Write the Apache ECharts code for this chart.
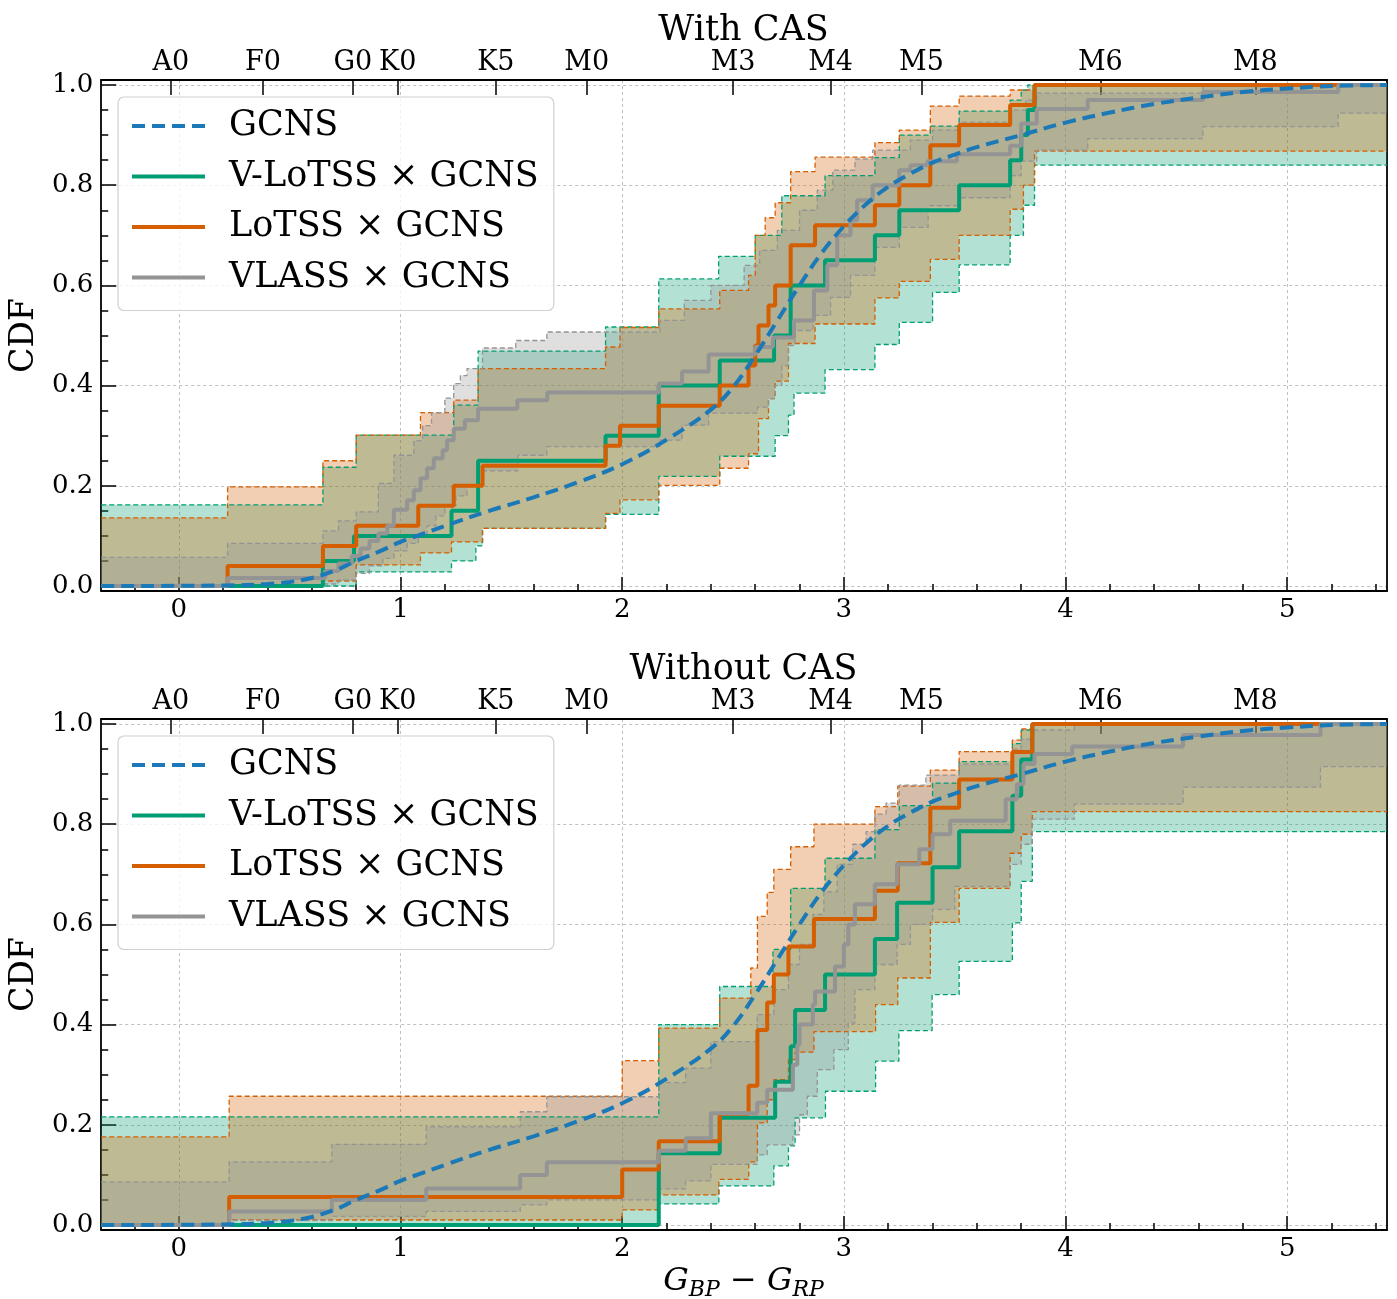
<!DOCTYPE html>
<html><head><meta charset="utf-8">
<script src="https://cdn.jsdelivr.net/npm/echarts@6/dist/echarts.min.js"></script>
<style>html,body{margin:0;padding:0;background:#fff}#c{width:1397px;height:1299px}</style>
</head><body><div id="c"></div>
<script>
// ---------- axis ranges & ticks ----------
const X_MIN = -0.35, X_MAX = 5.45, Y_MIN = -0.01, Y_MAX = 1.01;
const xMajorTicks = [0, 1, 2, 3, 4, 5];
const xMinorTicks = [-0.2, 0.2, 0.4, 0.6, 0.8, 1.2, 1.4, 1.6, 1.8, 2.2, 2.4, 2.6, 2.8, 3.2, 3.4, 3.6, 3.8, 4.2, 4.4, 4.6, 4.8, 5.2, 5.4];
const yMajorTicks = [0, 0.2, 0.4, 0.6, 0.8, 1.0];
const yMinorTicks = [0.05, 0.1, 0.15, 0.25, 0.3, 0.35, 0.45, 0.5, 0.55, 0.65, 0.7, 0.75, 0.85, 0.9, 0.95];
const specNames = ['A0', 'F0', 'G0', 'K0', 'K5', 'M0', 'M3', 'M4', 'M5', 'M6', 'M8'];
const specPos = [-0.036, 0.379, 0.785, 0.987, 1.43, 1.84, 2.50, 2.94, 3.35, 4.157, 4.856];
const panelTitles = ['With CAS', 'Without CAS'];
const legendNames = ['GCNS', 'V-LoTSS × GCNS', 'LoTSS × GCNS', 'VLASS × GCNS'];

// ---------- GCNS reference CDF ----------
const gcnsCdf = [[-0.35,0],[0.2,0.001],[0.4,0.004],[0.5,0.008],[0.6,0.016],[0.7,0.03],[0.8,0.05],[0.9,0.068],[1.0,0.088],[1.1,0.104],[1.2,0.12],[1.4,0.15],[1.6,0.177],[1.8,0.207],[2.0,0.243],[2.2,0.292],[2.4,0.352],[2.5,0.397],[2.6,0.46],[2.7,0.53],[2.8,0.60],[2.9,0.665],[3.0,0.718],[3.1,0.762],[3.2,0.797],[3.3,0.823],[3.4,0.845],[3.5,0.861],[3.6,0.876],[3.8,0.90],[4.0,0.925],[4.2,0.945],[4.4,0.962],[4.6,0.975],[4.8,0.986],[5.0,0.993],[5.2,0.998],[5.45,1.0]];

// ---------- With CAS ----------
const vlotssTopCdf = [[-0.35,0],[0.65,0.05],[0.79,0.10],[1.23,0.15],[1.35,0.25],[1.925,0.30],[2.165,0.40],[2.44,0.45],[2.685,0.50],[2.76,0.60],[2.915,0.65],[3.14,0.70],[3.25,0.75],[3.52,0.80],[3.75,0.85],[3.80,0.90],[3.83,0.95],[3.86,1.0]];
const vlotssTopHi = [[-0.35,0.162],[0.65,0.237],[0.80,0.301],[1.24,0.361],[1.35,0.469],[1.925,0.517],[2.165,0.613],[2.435,0.658],[2.60,0.70],[2.72,0.779],[2.915,0.819],[3.14,0.855],[3.25,0.90],[3.39,0.918],[3.52,0.948],[3.75,0.97],[3.80,0.99],[3.83,1.0]];
const vlotssTopLo = [[-0.35,0],[0.80,0.028],[1.23,0.05],[1.34,0.08],[1.37,0.115],[1.925,0.143],[2.165,0.219],[2.44,0.259],[2.69,0.30],[2.75,0.341],[2.775,0.385],[2.915,0.432],[3.14,0.482],[3.25,0.526],[3.40,0.586],[3.52,0.641],[3.75,0.70],[3.81,0.76],[3.86,0.84]];
const lotssTopCdf = [[-0.35,0],[0.22,0.04],[0.65,0.08],[0.80,0.12],[1.08,0.16],[1.24,0.20],[1.37,0.24],[1.925,0.28],[1.99,0.32],[2.165,0.36],[2.44,0.40],[2.57,0.44],[2.60,0.48],[2.615,0.52],[2.66,0.56],[2.69,0.60],[2.76,0.68],[2.87,0.72],[3.14,0.76],[3.25,0.80],[3.39,0.88],[3.52,0.92],[3.75,0.96],[3.86,1.0]];
const lotssTopHi = [[-0.35,0.136],[0.22,0.198],[0.65,0.25],[0.80,0.301],[1.09,0.346],[1.24,0.371],[1.35,0.434],[1.925,0.477],[1.99,0.516],[2.165,0.553],[2.44,0.59],[2.57,0.62],[2.60,0.70],[2.645,0.735],[2.69,0.765],[2.76,0.827],[2.87,0.856],[3.14,0.885],[3.25,0.91],[3.39,0.958],[3.52,0.978],[3.75,0.99],[3.86,1.0]];
const lotssTopLo = [[-0.35,0],[0.65,0.01],[0.80,0.042],[1.09,0.066],[1.23,0.088],[1.37,0.115],[1.925,0.145],[1.99,0.172],[2.165,0.201],[2.44,0.235],[2.57,0.264],[2.615,0.334],[2.66,0.374],[2.69,0.409],[2.75,0.484],[2.87,0.523],[3.14,0.575],[3.25,0.608],[3.39,0.652],[3.52,0.70],[3.75,0.752],[3.81,0.80],[3.86,0.868]];
const vlassTopCdf = [[-0.35,0],[0.22,0.016],[0.66,0.03],[0.72,0.045],[0.78,0.06],[0.82,0.075],[0.86,0.09],[0.90,0.105],[0.94,0.12],[0.97,0.152],[1.03,0.171],[1.06,0.191],[1.09,0.215],[1.12,0.235],[1.15,0.255],[1.19,0.271],[1.21,0.291],[1.24,0.314],[1.29,0.331],[1.35,0.354],[1.527,0.371],[1.662,0.386],[2.166,0.404],[2.27,0.428],[2.39,0.462],[2.60,0.477],[2.68,0.496],[2.775,0.53],[2.865,0.59],[2.925,0.64],[2.97,0.70],[3.03,0.73],[3.06,0.77],[3.13,0.80],[3.25,0.83],[3.30,0.84],[3.376,0.848],[3.51,0.862],[3.75,0.879],[3.80,0.923],[3.87,0.952],[4.10,0.97],[4.62,0.986],[5.23,1.0]];
const vlassTopHi = [[-0.35,0.057],[0.22,0.085],[0.65,0.11],[0.72,0.13],[0.80,0.148],[0.90,0.205],[0.97,0.261],[1.06,0.29],[1.10,0.32],[1.14,0.346],[1.20,0.375],[1.24,0.404],[1.27,0.42],[1.30,0.434],[1.37,0.475],[1.52,0.49],[1.66,0.507],[2.17,0.53],[2.28,0.57],[2.40,0.60],[2.55,0.64],[2.62,0.67],[2.70,0.71],[2.80,0.75],[2.88,0.79],[2.95,0.83],[3.05,0.852],[3.13,0.87],[3.30,0.89],[3.40,0.91],[3.52,0.926],[3.75,0.95],[3.82,0.97],[3.87,0.984],[4.62,1.0]];
const vlassTopLo = [[-0.35,0],[0.65,0.004],[0.72,0.012],[0.80,0.025],[0.86,0.04],[0.92,0.055],[0.97,0.07],[1.03,0.085],[1.08,0.10],[1.12,0.12],[1.16,0.14],[1.20,0.16],[1.25,0.18],[1.30,0.20],[1.37,0.23],[1.53,0.261],[1.66,0.278],[2.17,0.291],[2.27,0.321],[2.39,0.345],[2.61,0.357],[2.66,0.374],[2.69,0.40],[2.72,0.44],[2.75,0.48],[2.78,0.51],[2.86,0.54],[2.94,0.576],[3.03,0.62],[3.14,0.676],[3.25,0.716],[3.38,0.759],[3.52,0.775],[3.75,0.819],[3.80,0.848],[3.87,0.87],[4.10,0.893],[4.62,0.917],[5.23,0.944]];

// ---------- Without CAS ----------
const vlotssBotCdf = [[-0.35,0],[2.165,0.143],[2.44,0.214],[2.69,0.286],[2.76,0.357],[2.78,0.429],[2.915,0.50],[3.14,0.571],[3.24,0.643],[3.40,0.714],[3.52,0.786],[3.76,0.857],[3.80,0.929],[3.85,1.0]];
const vlotssBotHi = [[-0.35,0.216],[2.165,0.40],[2.44,0.476],[2.68,0.55],[2.76,0.672],[2.915,0.732],[3.14,0.789],[3.25,0.837],[3.40,0.882],[3.52,0.925],[3.76,0.961],[3.80,0.988],[3.85,1.0]];
const vlotssBotLo = [[-0.35,0],[2.165,0.042],[2.436,0.078],[2.684,0.118],[2.75,0.158],[2.78,0.214],[2.917,0.267],[3.143,0.327],[3.248,0.388],[3.398,0.46],[3.52,0.526],[3.76,0.603],[3.80,0.686],[3.85,0.785]];
const lotssBotCdf = [[-0.35,0],[0.227,0.056],[2.0,0.111],[2.165,0.167],[2.44,0.222],[2.57,0.278],[2.61,0.389],[2.654,0.444],[2.684,0.50],[2.75,0.556],[2.865,0.611],[3.14,0.667],[3.243,0.722],[3.39,0.833],[3.52,0.889],[3.76,0.944],[3.85,1.0]];
const lotssBotHi = [[-0.35,0.176],[0.227,0.257],[2.0,0.328],[2.165,0.393],[2.44,0.453],[2.58,0.513],[2.61,0.616],[2.654,0.664],[2.684,0.71],[2.76,0.755],[2.865,0.80],[3.14,0.835],[3.243,0.876],[3.39,0.908],[3.52,0.945],[3.76,0.968],[3.80,0.99],[3.85,1.0]];
const lotssBotLo = [[-0.35,0],[0.227,0.01],[2.0,0.03],[2.165,0.06],[2.436,0.091],[2.571,0.126],[2.61,0.204],[2.654,0.25],[2.684,0.29],[2.75,0.33],[2.78,0.345],[2.865,0.386],[3.143,0.44],[3.243,0.493],[3.39,0.604],[3.52,0.672],[3.75,0.742],[3.80,0.78],[3.85,0.825]];
const vlassBotCdf = [[-0.35,0],[0.227,0.027],[0.69,0.05],[1.116,0.073],[1.54,0.10],[1.66,0.125],[2.165,0.148],[2.286,0.173],[2.40,0.223],[2.609,0.244],[2.654,0.27],[2.77,0.32],[2.79,0.36],[2.80,0.40],[2.86,0.44],[2.87,0.466],[2.96,0.516],[3.0,0.56],[3.02,0.60],[3.05,0.64],[3.14,0.68],[3.24,0.72],[3.34,0.75],[3.40,0.78],[3.48,0.807],[3.73,0.85],[3.78,0.88],[3.81,0.92],[3.86,0.94],[4.03,0.955],[4.53,0.978],[5.15,1.0]];
const vlassBotHi = [[-0.35,0.086],[0.227,0.126],[0.69,0.161],[1.116,0.196],[1.54,0.226],[1.66,0.256],[2.165,0.284],[2.286,0.313],[2.40,0.366],[2.609,0.42],[2.684,0.47],[2.75,0.52],[2.80,0.56],[2.86,0.62],[2.91,0.665],[2.97,0.72],[3.04,0.76],[3.10,0.785],[3.14,0.82],[3.19,0.842],[3.25,0.878],[3.37,0.898],[3.52,0.92],[3.76,0.95],[3.80,0.97],[3.85,0.988],[4.04,1.0]];
const vlassBotLo = [[-0.35,0],[0.227,0.009],[0.69,0.017],[1.116,0.027],[1.54,0.04],[1.66,0.05],[2.165,0.072],[2.286,0.088],[2.40,0.121],[2.609,0.14],[2.654,0.16],[2.77,0.18],[2.80,0.22],[2.835,0.257],[2.88,0.31],[2.955,0.35],[3.02,0.403],[3.05,0.47],[3.14,0.52],[3.24,0.56],[3.30,0.60],[3.40,0.63],[3.50,0.676],[3.75,0.72],[3.80,0.76],[3.85,0.81],[4.04,0.84],[4.53,0.874],[5.15,0.915]];

// ---------- styling ----------
const FONT = '"DejaVu Serif", serif';
const C_BLUE = '#1b79b7', C_GREEN = '#029e73', C_ORANGE = '#d55e00', C_GRAY = '#949494';
const FILL = { [C_GREEN]: 'rgba(2,158,115,0.3)', [C_ORANGE]: 'rgba(213,94,0,0.3)', [C_GRAY]: 'rgba(148,148,148,0.3)' };
const CDF_W = 4, GCNS_W = 4, GCNS_DASH = [13, 7];

const panels = [
  { title: panelTitles[0], top: 80, sets: [
      [legendNames[1], C_GREEN, vlotssTopCdf, vlotssTopLo, vlotssTopHi],
      [legendNames[2], C_ORANGE, lotssTopCdf, lotssTopLo, lotssTopHi],
      [legendNames[3], C_GRAY, vlassTopCdf, vlassTopLo, vlassTopHi]] },
  { title: panelTitles[1], top: 719, sets: [
      [legendNames[1], C_GREEN, vlotssBotCdf, vlotssBotLo, vlotssBotHi],
      [legendNames[2], C_ORANGE, lotssBotCdf, lotssBotLo, lotssBotHi],
      [legendNames[3], C_GRAY, vlassBotCdf, vlassBotLo, vlassBotHi]] }
];
const PLOT_LEFT = 100, PLOT_W = 1287, PLOT_H = 511;

function withEnd(arr) { return arr.concat([[X_MAX, arr[arr.length - 1][1]]]); }
function stepPts(arr) {
  const out = [];
  for (let i = 0; i < arr.length; i++) {
    const xn = i + 1 < arr.length ? arr[i + 1][0] : X_MAX;
    out.push([arr[i][0], arr[i][1]], [xn, arr[i][1]]);
  }
  return out;
}
function band(lo, hi, color, xi, yi) {
  return {
    type: 'custom', xAxisIndex: xi, yAxisIndex: yi, clip: true, silent: true, z: 1,
    data: [[0, 0]],
    renderItem: (params, api) => {
      const pts = stepPts(hi).concat(stepPts(lo).reverse()).map(p => api.coord(p));
      return { type: 'polygon', shape: { points: pts }, style: { fill: FILL[color], stroke: null } };
    }
  };
}
function stepLine(name, arr, color, width, type, xi, yi, z) {
  return {
    name: name, type: 'line', step: 'end', data: withEnd(arr), symbol: 'none', xAxisIndex: xi, yAxisIndex: yi,
    lineStyle: { color: color, width: width, type: type }, itemStyle: { color: color }, silent: true, z: z
  };
}

const grids = [], xAxes = [], yAxes = [], series = [], legends = [], graphics = [];
const tickStyle = { color: '#000', width: 1.5 };
const frameStyle = { color: '#000', width: 1.8 };
const gridLine = { show: true, lineStyle: { color: '#b8b8b8', type: [3, 3], width: 0.9 } };
const hidden = { axisLine: { show: false, onZero: false }, axisTick: { show: false }, axisLabel: { show: false }, splitLine: { show: false } };

panels.forEach((p, gi) => {
  grids.push({ left: PLOT_LEFT, top: p.top, width: PLOT_W, height: PLOT_H });
  const xb = xAxes.length, yb = yAxes.length;
  const xBase = { type: 'value', gridIndex: gi, min: X_MIN, max: X_MAX };
  const yBase = { type: 'value', gridIndex: gi, min: Y_MIN, max: Y_MAX };
  xAxes.push(
    Object.assign({}, xBase, hidden, { position: 'bottom',
      axisLine: { show: true, onZero: false, lineStyle: frameStyle },
      axisTick: { show: true, inside: true, length: 14, customValues: xMajorTicks, lineStyle: tickStyle },
      axisLabel: { show: true, customValues: xMajorTicks, margin: 6, fontSize: 26, fontFamily: FONT, color: '#000' },
      splitLine: gridLine }),
    Object.assign({}, xBase, hidden, { position: 'bottom',
      axisTick: { show: true, inside: true, length: 7, customValues: xMinorTicks, lineStyle: tickStyle } }),
    Object.assign({}, xBase, hidden, { position: 'top',
      axisLine: { show: true, onZero: false, lineStyle: frameStyle },
      axisTick: { show: true, inside: true, length: 15, customValues: specPos, lineStyle: tickStyle },
      axisLabel: { show: true, customValues: specPos, margin: 4, fontSize: 27, fontFamily: FONT, color: '#000',
        formatter: v => { let b = 0; specPos.forEach((s, i) => { if (Math.abs(s - v) < Math.abs(specPos[b] - v)) b = i; }); return specNames[b]; } } })
  );
  yAxes.push(
    Object.assign({}, yBase, hidden, { position: 'left', name: 'CDF', nameLocation: 'middle', nameGap: 49,
      nameTextStyle: { fontSize: 33, fontFamily: FONT, color: '#000' },
      axisLine: { show: true, onZero: false, lineStyle: frameStyle },
      axisTick: { show: true, inside: true, length: 15, customValues: yMajorTicks, lineStyle: tickStyle },
      axisLabel: { show: true, customValues: yMajorTicks, margin: 8, fontSize: 26, fontFamily: FONT, color: '#000', formatter: v => v.toFixed(1) },
      splitLine: gridLine }),
    Object.assign({}, yBase, hidden, { position: 'left',
      axisTick: { show: true, inside: true, length: 7, customValues: yMinorTicks, lineStyle: tickStyle } }),
    Object.assign({}, yBase, hidden, { position: 'right', axisLine: { show: true, onZero: false, lineStyle: frameStyle } })
  );
  p.sets.forEach(s => series.push(band(s[3], s[4], s[1], xb, yb)));
  p.sets.forEach(s => {
    series.push(stepLine('', s[3], s[1], 1.3, [5, 3], xb, yb, 3));
    series.push(stepLine('', s[4], s[1], 1.3, [5, 3], xb, yb, 3));
  });
  p.sets.forEach(s => series.push(stepLine(s[0], s[2], s[1], CDF_W, 'solid', xb, yb, 4)));
  series.push({ name: legendNames[0], type: 'line', data: gcnsCdf, smooth: 0.4, symbol: 'none',
    xAxisIndex: xb, yAxisIndex: yb, lineStyle: { color: C_BLUE, width: GCNS_W, type: GCNS_DASH }, itemStyle: { color: C_BLUE }, silent: true, z: 5 });

  legends.push({ left: 118, top: p.top + 17, orient: 'vertical', selectedMode: false,
    data: [
      { name: legendNames[0], lineStyle: { width: GCNS_W, type: GCNS_DASH, color: C_BLUE } },
      { name: legendNames[1], lineStyle: { width: CDF_W, type: 'solid', color: C_GREEN } },
      { name: legendNames[2], lineStyle: { width: CDF_W, type: 'solid', color: C_ORANGE } },
      { name: legendNames[3], lineStyle: { width: CDF_W, type: 'solid', color: C_GRAY } }
    ],
    itemStyle: { opacity: 0, borderWidth: 0 },
    itemWidth: 73, itemHeight: 14, itemGap: 12.5, padding: [10, 15, 14, 12],
    backgroundColor: 'rgba(255,255,255,0.8)', borderColor: '#d0d0d0', borderWidth: 1.2, borderRadius: 6,
    textStyle: { fontFamily: FONT, fontSize: 35, color: '#000', lineHeight: 38, padding: [0, 0, 0, 19] } });
  graphics.push({ type: 'text', x: PLOT_LEFT + PLOT_W / 2, y: p.top - 49,
    style: { text: p.title, font: '35px "DejaVu Serif", serif', fill: '#000', align: 'center', verticalAlign: 'middle' } });
});

graphics.push({ type: 'text', x: PLOT_LEFT + PLOT_W / 2, y: 1282,
  style: { text: '{i|G}{s|BP}{m| − }{i|G}{s|RP}', align: 'center', verticalAlign: 'middle', fill: '#000',
    rich: {
      i: { fontFamily: FONT, fontStyle: 'italic', fontSize: 32, lineHeight: 40 },
      s: { fontFamily: FONT, fontStyle: 'italic', fontSize: 22, lineHeight: 22, padding: [16, 0, 0, 0] },
      m: { fontFamily: FONT, fontSize: 32, lineHeight: 40 }
    } } });

const chart = echarts.init(document.getElementById('c'), null, { renderer: 'canvas' });
chart.setOption({
  animation: false, backgroundColor: '#fff',
  grid: grids, xAxis: xAxes, yAxis: yAxes, series: series, legend: legends, graphic: graphics
});
</script></body></html>
